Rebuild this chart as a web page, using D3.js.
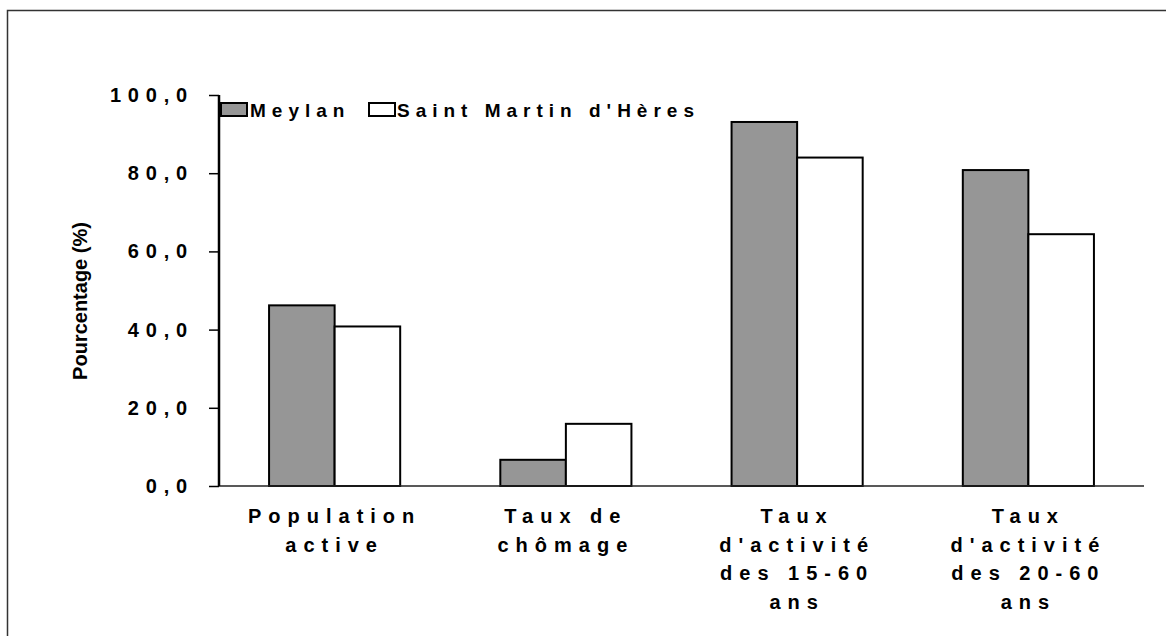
<!DOCTYPE html>
<html lang="fr">
<head>
<meta charset="UTF-8">
<title>Meylan / Saint Martin d'Hères</title>
<script src="https://d3js.org/d3.v7.min.js"></script>
<style>
body {
  margin: 0;
  background: #fff;
  font-family: "Liberation Sans", Arial, Helvetica, sans-serif;
}
svg text {
  font-weight: bold;
  fill: #000;
}
</style>
</head>
<body>
<div id="chart"></div>
<script>
// data
var categories = ["Population active", "Taux de chômage",
                  "Taux d'activité des 15-60 ans", "Taux d'activité des 20-60 ans"];
var categoryLines = [["Population", "active"],
                     ["Taux de", "chômage"],
                     ["Taux", "d'activité", "des 15-60", "ans"],
                     ["Taux", "d'activité", "des 20-60", "ans"]];
var seriesNames = ["Meylan", "Saint Martin d'Hères"];
var meylan = [46.2, 6.7, 93.1, 80.8];
var smh = [40.8, 15.9, 84.0, 64.4];
var yTicks = [0, 20, 40, 60, 80, 100];

var W = 1166, H = 636;
var margin = {top: 95, right: 22, bottom: 150, left: 219};
var width = W - margin.left - margin.right,
    height = H - margin.top - margin.bottom;

var svg = d3.select("#chart").append("svg")
    .attr("width", W)
    .attr("height", H);

// outer frame (runs off the right and bottom edge)
svg.append("path")
  .attr("d", "M7.5," + (H + 5) + "V10.5H" + (W + 5))
  .attr("fill", "none")
  .attr("stroke", "#333")
  .attr("stroke-width", 1.5);

var g = svg.append("g")
  .attr("transform", "translate(" + margin.left + "," + margin.top + ")");

var x0 = d3.scaleBand()
  .domain(categories)
  .range([0, width])
  .paddingInner(0.433)
  .paddingOuter(0.2165);

var x1 = d3.scaleBand()
  .domain(seriesNames)
  .range([0, x0.bandwidth()]);

var y = d3.scaleLinear()
  .domain([0, 100])
  .range([height, 0]);

var colors = {"Meylan": "#969696", "Saint Martin d'Hères": "#ffffff"};

var rows = categories.map(function(c, i) {
  return {cat: c, values: [
    {name: seriesNames[0], v: meylan[i]},
    {name: seriesNames[1], v: smh[i]}
  ]};
});

// bars
g.selectAll(".grp")
  .data(rows)
  .enter().append("g")
    .attr("class", "grp")
    .attr("transform", function(d) { return "translate(" + x0(d.cat) + ",0)"; })
  .selectAll("rect")
  .data(function(d) { return d.values; })
  .enter().append("rect")
    .attr("x", function(d) { return x1(d.name); })
    .attr("y", function(d) { return y(d.v); })
    .attr("width", x1.bandwidth())
    .attr("height", function(d) { return height - y(d.v); })
    .attr("fill", function(d) { return colors[d.name]; })
    .attr("stroke", "#000")
    .attr("stroke-width", 2);

// x axis line
g.append("line")
  .attr("x1", 0).attr("x2", width)
  .attr("y1", height).attr("y2", height)
  .attr("stroke", "#222")
  .attr("stroke-width", 1.5);

// y axis
var fmt = function(v) { return d3.format(".1f")(v).replace(".", ","); };
var yAxis = g.append("g")
  .call(d3.axisLeft(y).tickValues(yTicks).tickFormat(fmt).tickSize(10).tickPadding(15));
yAxis.select(".domain")
  .attr("stroke", "#000")
  .attr("stroke-width", 2.5)
  .attr("d", "M0," + y(100) + "V" + height);
yAxis.selectAll(".tick line")
  .attr("stroke", "#000")
  .attr("stroke-width", 1.5);
yAxis.selectAll(".tick text")
  .attr("font-family", "Liberation Sans, Arial, sans-serif")
  .attr("font-size", 20)
  .attr("font-weight", "bold")
  .style("letter-spacing", "6.8px")
  .attr("dx", 0)
  .attr("fill", "#000");

// y axis title
svg.append("text")
  .attr("transform", "translate(87,301) rotate(-90)")
  .attr("text-anchor", "middle")
  .attr("font-size", 20)
  .text("Pourcentage (%)");

// category labels
var labels = g.selectAll(".cat")
  .data(rows)
  .enter().append("text")
    .attr("class", "cat")
    .attr("text-anchor", "middle")
    .attr("font-size", 20)
    .style("letter-spacing", "7px")
    .attr("transform", function(d) {
      return "translate(" + (x0(d.cat) + x0.bandwidth() / 2) + "," + (height + 37) + ")";
    });
labels.selectAll("tspan")
  .data(function(d, i) { return categoryLines[i]; })
  .enter().append("tspan")
    .attr("x", 0)
    .attr("y", function(d, i) { return i * 28.5; })
    .text(function(d) { return d; });

// legend
var legendX = [221, 369];
var legend = svg.selectAll(".leg")
  .data(seriesNames)
  .enter().append("g")
    .attr("class", "leg")
    .attr("transform", function(d, i) { return "translate(" + legendX[i] + ",103)"; });
legend.append("rect")
  .attr("width", 26)
  .attr("height", 13)
  .attr("fill", function(d) { return colors[d]; })
  .attr("stroke", "#000")
  .attr("stroke-width", 2);
legend.append("text")
  .attr("x", function(d, i) { return i === 0 ? 29 : 28; })
  .attr("y", 13.5)
  .attr("font-size", 19)
  .style("letter-spacing", "6px")
  .text(function(d) { return d; });
</script>
</body>
</html>
